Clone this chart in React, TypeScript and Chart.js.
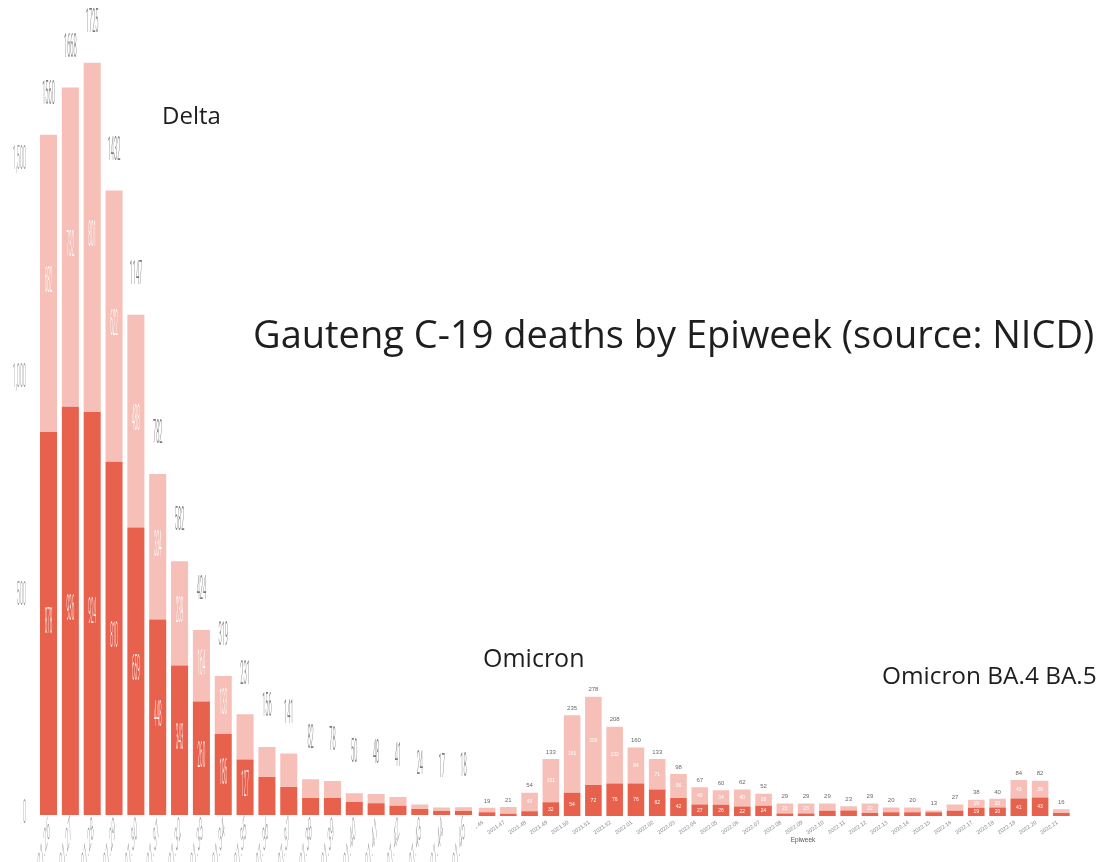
import React, { useEffect, useRef } from "react";
import { Chart, registerables } from "chart.js";

Chart.register(...registerables);

const DARK = "#E8614D";
const LIGHT = "#F6BFB7";

// Delta wave (left panel)
const deltaWeeks = [
  "2021.26", "2021.27", "2021.28", "2021.29", "2021.30", "2021.31", "2021.32",
  "2021.33", "2021.34", "2021.35", "2021.36", "2021.37", "2021.38", "2021.39",
  "2021.40", "2021.41", "2021.42", "2021.43", "2021.44", "2021.45",
];
const deltaDark = [878, 936, 924, 810, 659, 448, 343, 260, 186, 127, 87, 64, 39, 39, 30, 27, 21, 14, 9, 9];
const deltaLight = [682, 732, 801, 622, 488, 334, 239, 164, 133, 104, 69, 77, 43, 39, 20, 21, 20, 10, 8, 9];
const yTicks = [0, 500, 1000, 1500];

// Omicron waves (right panel)
const omicronWeeks = [
  "2021.46", "2021.47", "2021.48", "2021.49", "2021.50", "2021.51", "2021.52",
  "2022.01", "2022.02", "2022.03", "2022.04", "2022.05", "2022.06", "2022.07",
  "2022.08", "2022.09", "2022.10", "2022.11", "2022.12", "2022.13", "2022.14",
  "2022.15", "2022.16", "2022.17", "2022.18", "2022.19", "2022.20", "2022.21",
];
const omicronDark = [9, 5, 11, 32, 54, 72, 76, 76, 62, 42, 27, 26, 22, 24, 6, 6, 12, 13, 7, 9, 9, 9, 12, 19, 20, 41, 43, 7];
const omicronLight = [10, 16, 43, 101, 181, 206, 132, 84, 71, 56, 40, 34, 40, 28, 23, 23, 17, 10, 22, 11, 11, 4, 15, 19, 20, 43, 39, 9];

const Y_MAX = 1800;

function drawStretched(
  ctx: CanvasRenderingContext2D,
  text: string,
  x: number,
  y: number,
  sx: number,
  sy: number,
  angle: number,
  align: CanvasTextAlign,
  color: string,
  font: string
) {
  ctx.save();
  ctx.translate(x, y);
  ctx.scale(sx, sy);
  ctx.rotate(angle);
  ctx.font = font;
  ctx.textAlign = align;
  ctx.textBaseline = "middle";
  ctx.fillStyle = color;
  ctx.fillText(text, 0, 0);
  ctx.restore();
}

const deltaPlugin = {
  id: "deltaLabels",
  afterDatasetsDraw(chart: any) {
    const ctx = chart.ctx as CanvasRenderingContext2D;
    const ys = chart.scales.y;
    const m0 = chart.getDatasetMeta(0);
    const m1 = chart.getDatasetMeta(1);
    const f = "11px 'DejaVu Sans'";
    const fl = "300 11px 'Roboto'";
    yTicks.forEach((v) =>
      drawStretched(ctx, v.toLocaleString("en-US"), 26, ys.getPixelForValue(v), 0.5, 3, 0, "right", "#9a9a9a", fl)
    );
    deltaWeeks.forEach((w, i) => {
      const b0 = m0.data[i];
      const b1 = m1.data[i];
      const total = deltaDark[i] + deltaLight[i];
      drawStretched(ctx, String(total), b1.x, b1.y - 39, 0.52, 3.0, 0, "center", "#7a7a7a", fl);
      if (deltaDark[i] >= 120)
        drawStretched(ctx, String(deltaDark[i]), b0.x, (b0.y + b0.base) / 2, 0.42, 3.3, 0, "center", "#fff6f4", fl);
      if (deltaLight[i] >= 120)
        drawStretched(ctx, String(deltaLight[i]), b1.x, (b1.y + b1.base) / 2, 0.42, 3.3, 0, "center", "#ffffff", fl);
      drawStretched(ctx, w, b0.x + 1, 826, 0.5, 3.0, -0.6, "right", "#9a9a9a", fl);
    });
    void f;
  },
};

const omicronPlugin = {
  id: "omicronLabels",
  afterDatasetsDraw(chart: any) {
    const ctx = chart.ctx as CanvasRenderingContext2D;
    const m0 = chart.getDatasetMeta(0);
    const m1 = chart.getDatasetMeta(1);
    ctx.save();
    ctx.textBaseline = "middle";
    omicronWeeks.forEach((w, i) => {
      const b0 = m0.data[i];
      const b1 = m1.data[i];
      const total = omicronDark[i] + omicronLight[i];
      ctx.font = "6px 'Liberation Sans'";
      ctx.fillStyle = "#6a6a6a";
      ctx.textAlign = "center";
      ctx.fillText(String(total), b1.x, b1.y - 7);
      ctx.font = "5px 'Liberation Sans'";
      ctx.fillStyle = "#ffffff";
      if (omicronDark[i] >= 19) ctx.fillText(String(omicronDark[i]), b0.x, (b0.y + b0.base) / 2);
      if (omicronLight[i] >= 19) ctx.fillText(String(omicronLight[i]), b1.x, (b1.y + b1.base) / 2);
      ctx.save();
      ctx.translate(b0.x - 4, 822);
      ctx.rotate(-0.6);
      ctx.font = "5.5px 'Liberation Sans'";
      ctx.fillStyle = "#8a8a8a";
      ctx.textAlign = "right";
      ctx.fillText(w, 0, 0);
      ctx.restore();
    });
    ctx.font = "6.5px 'Liberation Sans'";
    ctx.fillStyle = "#555";
    ctx.textAlign = "center";
    ctx.fillText("Epiweek", 327, 840);
    ctx.restore();
  },
};

function StackedBars(props: {
  weeks: string[];
  dark: number[];
  light: number[];
  plugin: any;
  left: number;
  width: number;
  padding: { left: number; right: number; top: number; bottom: number };
}) {
  const ref = useRef<HTMLCanvasElement | null>(null);
  useEffect(() => {
    if (!ref.current) return;
    const chart = new Chart(ref.current, {
      type: "bar",
      data: {
        labels: props.weeks,
        datasets: [
          { data: props.dark, backgroundColor: DARK, borderWidth: 0 },
          { data: props.light, backgroundColor: LIGHT, borderWidth: 0 },
        ],
      },
      options: {
        animation: false,
        responsive: false,
        maintainAspectRatio: false,
        devicePixelRatio: 1,
        layout: { padding: props.padding },
        plugins: { legend: { display: false }, tooltip: { enabled: false } },
        datasets: { bar: { categoryPercentage: 1, barPercentage: 0.78 } },
        scales: {
          x: { stacked: true, display: false },
          y: { stacked: true, display: false, min: 0, max: Y_MAX },
        },
      } as any,
      plugins: [props.plugin],
    });
    return () => chart.destroy();
  }, []);
  return (
    <canvas
      ref={ref}
      width={props.width}
      height={862}
      style={{ position: "absolute", left: props.left, top: 0, width: props.width, height: 862 }}
    />
  );
}

function Label(props: { text: string; left: number; baseline: number; size: number }) {
  return (
    <div
      style={{
        position: "absolute",
        left: props.left,
        top: props.baseline - 0.888 * props.size,
        fontFamily: "'Open Sans', sans-serif",
        fontSize: props.size,
        lineHeight: `${props.size}px`,
        color: "#1e1e1e",
        whiteSpace: "nowrap",
      }}
    >
      {props.text}
    </div>
  );
}

export default function App() {
  return (
    <div
      style={{
        position: "fixed",
        left: 0,
        top: 0,
        width: 1101,
        height: 862,
        background: "#ffffff",
        overflow: "hidden",
      }}
    >
      <StackedBars
        weeks={deltaWeeks}
        dark={deltaDark}
        light={deltaLight}
        plugin={deltaPlugin}
        left={0}
        width={476}
        padding={{ left: 37.6, right: 1.6, top: 30, bottom: 47 }}
      />
      <StackedBars
        weeks={omicronWeeks}
        dark={omicronDark}
        light={omicronLight}
        plugin={omicronPlugin}
        left={476}
        width={625}
        padding={{ left: 0.4, right: 29, top: 44, bottom: 46 }}
      />
      <Label text="Delta" left={162} baseline={124} size={24} />
      <Label text="Gauteng C-19 deaths by Epiweek (source: NICD)" left={253} baseline={348} size={38} />
      <Label text="Omicron" left={483} baseline={667} size={25} />
      <Label text="Omicron BA.4 BA.5" left={882} baseline={685} size={24.4} />
    </div>
  );
}
